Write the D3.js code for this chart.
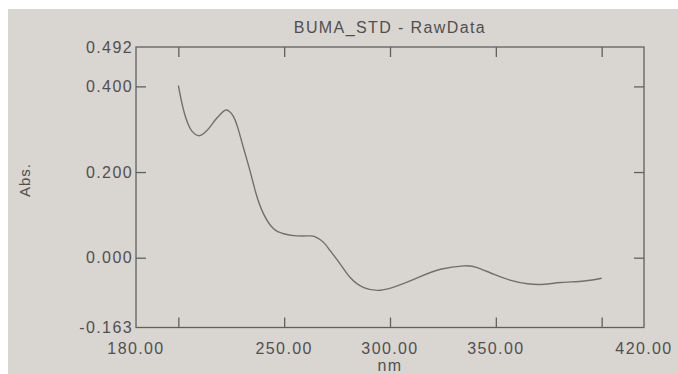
<!DOCTYPE html>
<html>
<head>
<meta charset="utf-8">
<script src="https://cdn.jsdelivr.net/npm/d3@7"></script>
<style>
  html, body { margin: 0; padding: 0; background: #ffffff; }
  svg { display: block; }
  text { font-family: "Liberation Sans", Arial, sans-serif; fill: #505050; }
</style>
</head>
<body>
<svg id="chart" width="678" height="374"></svg>
<script>
// ---- data ----
const title = "BUMA_STD - RawData";
const xLabel = "nm";
const yLabel = "Abs.";
const wavelength = [200.0, 201.5, 203.0, 204.6, 206.5, 209.4, 212.0, 214.9, 217.5, 219.7, 222.0, 224.0, 226.0, 228.0, 230.7, 233.9, 236.7, 240.2, 244.9, 249.7, 256.0, 262.3, 264.5, 267.1, 269.5, 271.8, 276.5, 281.3, 287.6, 295.5, 303.4, 312.9, 323.9, 335.0, 341.3, 349.2, 357.1, 365.0, 372.9, 380.8, 391.8, 400.0];
const absorbance = [0.402, 0.365, 0.335, 0.312, 0.295, 0.285, 0.290, 0.305, 0.322, 0.334, 0.344, 0.342, 0.330, 0.305, 0.258, 0.202, 0.150, 0.103, 0.068, 0.056, 0.051, 0.051, 0.049, 0.042, 0.031, 0.016, -0.015, -0.047, -0.070, -0.076, -0.066, -0.047, -0.027, -0.019, -0.023, -0.039, -0.053, -0.061, -0.062, -0.058, -0.0545, -0.048];
const xTicks = [200, 250, 300, 350, 400];
const xTickLabels = [180, 250, 300, 350, 420];
const yTicks = [0.4, 0.2, 0.0];
const yTickLabels = [0.492, 0.4, 0.2, 0.0, -0.163];
const xDomain = [180, 420];
const yDomain = [-0.163, 0.492];

// ---- layout ----
const svg = d3.select("#chart");
const W = 678, H = 374;
const L = 136, R = 644, T = 47, B = 327.5;

svg.append("rect").attr("x", 8).attr("y", 9).attr("width", W - 8).attr("height", H - 9).attr("fill", "#d9d5d1");

const x = d3.scaleLinear().domain(xDomain).range([L, R]);
const y = d3.scaleLinear().domain(yDomain).range([B, T]);

const axisColor = "#606060";
const tl = 10;
const letter = "1.4px";

// frame
svg.append("rect").attr("x", L).attr("y", T).attr("width", R - L).attr("height", B - T)
  .attr("fill", "none").attr("stroke", axisColor).attr("stroke-width", 1.3);

// axes with inward ticks
const gBottom = svg.append("g").attr("transform", `translate(0,${B})`)
  .call(d3.axisTop(x).tickValues(xTicks).tickSize(tl).tickFormat(""));
const gTop = svg.append("g").attr("transform", `translate(0,${T})`)
  .call(d3.axisBottom(x).tickValues(xTicks).tickSize(tl).tickFormat(""));
const gLeft = svg.append("g").attr("transform", `translate(${L},0)`)
  .call(d3.axisRight(y).tickValues(yTicks).tickSize(tl).tickFormat(""));
const gRight = svg.append("g").attr("transform", `translate(${R},0)`)
  .call(d3.axisLeft(y).tickValues(yTicks).tickSize(tl).tickFormat(""));
[gBottom, gTop, gLeft, gRight].forEach(g => {
  g.select(".domain").remove();
  g.selectAll(".tick line").attr("stroke", axisColor).attr("stroke-width", 1.3);
});

// tick labels
svg.append("g").selectAll("text").data(yTickLabels).join("text")
  .attr("x", L - 3).attr("y", d => y(d)).attr("dy", "0.36em")
  .attr("text-anchor", "end").attr("font-size", 16).attr("letter-spacing", letter)
  .text(d => d3.format(".3f")(d).replace("−", "-"));

svg.append("g").selectAll("text").data(xTickLabels).join("text")
  .attr("x", d => x(d)).attr("y", B + 26)
  .attr("text-anchor", "middle").attr("font-size", 16).attr("letter-spacing", letter)
  .text(d => d3.format(".2f")(d));

// titles
svg.append("text").attr("x", 390).attr("y", 33).attr("text-anchor", "middle")
  .attr("font-size", 16).attr("letter-spacing", letter).text(title);
svg.append("text").attr("x", x(300)).attr("y", 371).attr("text-anchor", "middle")
  .attr("font-size", 16).attr("letter-spacing", letter).text(xLabel);
svg.append("text").attr("transform", "translate(30,180) rotate(-90)").attr("text-anchor", "middle")
  .attr("font-size", 15).attr("letter-spacing", "1px").text(yLabel);

// spectrum
const pts = wavelength.map((w, i) => [w, absorbance[i]]);
svg.append("path").datum(pts)
  .attr("fill", "none").attr("stroke", "#707070").attr("stroke-width", 1.4)
  .attr("d", d3.line().x(d => x(d[0])).y(d => y(d[1])).curve(d3.curveNatural));
</script>
</body>
</html>
